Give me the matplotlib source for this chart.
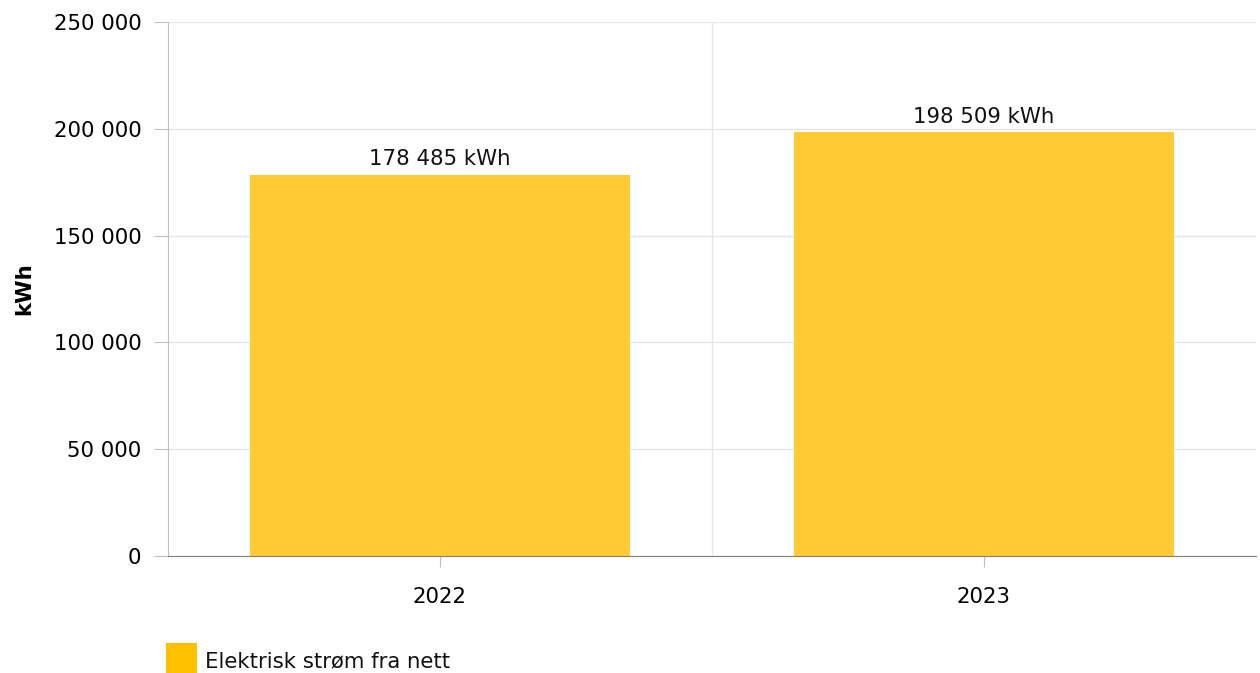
import matplotlib.pyplot as plt
from matplotlib.patches import Rectangle

# Data
years = ['2022', '2023']
values = [178485, 198509]
series_name = 'Elektrisk strøm fra nett'

bar_color = '#FFCA33'
legend_color = '#FFC000'

plt.rcParams['font.family'] = ['DejaVu Sans']
fs = 15.3
W, H = 1260, 673


def fmt(v):
    return f'{int(v):,}'.replace(',', ' ')


fig = plt.figure(figsize=(W / 100, H / 100), dpi=100)
ax = fig.add_axes([0.1333, 0.1738, 0.8635, 0.7935])

x = list(range(len(years)))
ax.bar(x, values, width=0.7, color=bar_color, zorder=2)

for xi, v in zip(x, values):
    ax.text(xi, v + 2500, fmt(v) + ' kWh', ha='center', va='bottom',
            fontsize=fs, color='#111111')

ax.set_xlim(-0.5, len(years) - 0.5)
ax.set_ylim(0, 250000)
yt = list(range(0, 250001, 50000))
ax.set_yticks(yt)
ax.set_yticklabels([fmt(v) for v in yt], fontsize=fs)
ax.set_xticks(x)
ax.set_xticklabels(years, fontsize=fs)

# grid: horizontal at ticks, vertical at category boundaries
ax.set_axisbelow(True)
ax.grid(axis='y', color='#e6e6e6', linewidth=1)
for b in range(1, len(years)):
    ax.axvline(b - 0.5, color='#e6e6e6', linewidth=1, zorder=0)

for s in ['top', 'right']:
    ax.spines[s].set_visible(False)
ax.spines['left'].set_color('#c0c0c0')
ax.spines['bottom'].set_color('#808080')
ax.tick_params(axis='y', length=10, color='#c0c0c0', pad=9)
ax.tick_params(axis='x', length=8, color='#c0c0c0', pad=14)

ax.set_ylabel('kWh', fontweight='bold', fontsize=fs)
ax.yaxis.set_label_coords(-0.123, 0.5)

# legend (square + label under the plot)
fig.patches.append(Rectangle((166 / W, -2 / H), 31 / W, 32 / H,
                             transform=fig.transFigure,
                             facecolor=legend_color, edgecolor='none'))
fig.text(205 / W, (H - 667) / H, series_name, fontsize=fs,
         ha='left', va='baseline', color='#111111')

fig.savefig('out.png', dpi=100)
